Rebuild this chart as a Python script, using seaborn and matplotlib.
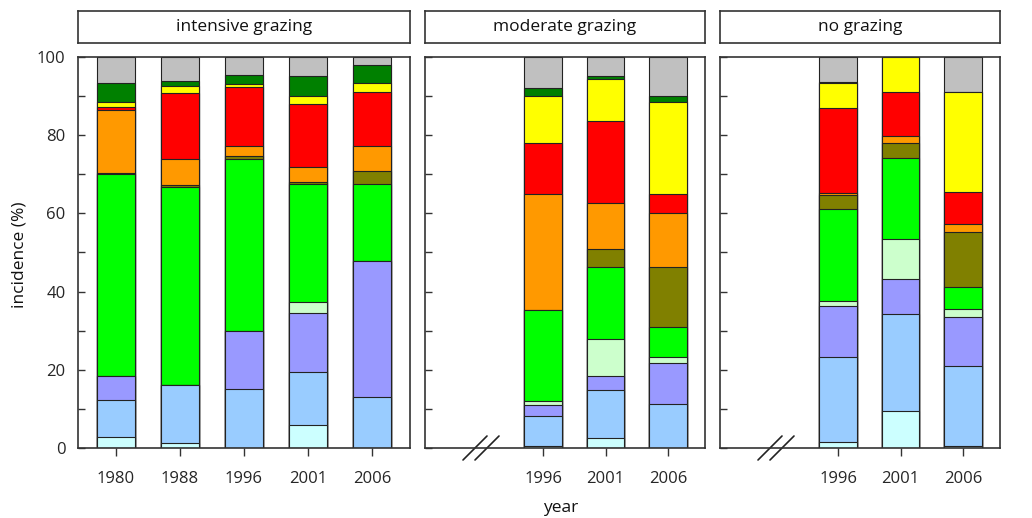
import numpy as np
import pandas as pd
import matplotlib
matplotlib.use("Agg")
import matplotlib.pyplot as plt
from matplotlib.lines import Line2D
import seaborn as sns

# ---- data -----------------------------------------------------------------
panels = ["intensive grazing", "moderate grazing", "no grazing"]
years_all = ["1980", "1988", "1996", "2001", "2006"]
panel_years = [
    ["1980", "1988", "1996", "2001", "2006"],
    ["1996", "2001", "2006"],
    ["1996", "2001", "2006"],
]

# incidence (%) of each class, bottom to top of the stack;
# columns: intensive 1980..2006, moderate 1996..2006, none 1996..2006
c01 = [2.9, 1.2, 0.0, 5.8, 0.0, 0.4, 2.6, 0.0, 1.5, 9.5, 0.5]
c02 = [9.3, 14.9, 15.2, 13.6, 13.1, 7.8, 12.2, 11.2, 21.9, 24.7, 20.5]
c03 = [6.2, 0.0, 14.6, 15.0, 34.8, 2.7, 3.6, 10.5, 12.8, 9.0, 12.5]
c04 = [0.0, 0.0, 0.0, 2.9, 0.0, 1.0, 9.4, 1.5, 1.4, 10.3, 2.0]
c05 = [51.6, 50.7, 44.0, 30.1, 19.5, 23.3, 18.6, 7.7, 23.5, 20.6, 5.8]
c06 = [0.3, 0.4, 0.9, 0.6, 3.4, 0.0, 4.4, 15.3, 3.7, 4.0, 14.0]
c07 = [16.2, 6.8, 2.5, 3.8, 6.5, 29.7, 11.9, 14.0, 0.5, 1.7, 2.0]
c08 = [0.6, 16.7, 15.1, 16.1, 13.7, 13.2, 20.9, 4.7, 21.6, 11.2, 8.1]
c09 = [1.3, 1.9, 0.9, 2.2, 2.4, 11.8, 10.7, 23.7, 6.4, 9.0, 25.6]
c10 = [4.9, 1.3, 2.2, 5.1, 4.6, 2.1, 0.8, 1.3, 0.2, 0.0, 0.1]
c11 = [6.7, 6.1, 4.6, 4.8, 2.0, 8.0, 4.9, 10.1, 6.5, 0.0, 8.9]

classes = ["c01", "c02", "c03", "c04", "c05", "c06", "c07", "c08", "c09", "c10", "c11"]
class_values = [c01, c02, c03, c04, c05, c06, c07, c08, c09, c10, c11]
class_colors = ["#CCFFFF", "#99CCFF", "#9999FF", "#CCFFCC", "#00FF00", "#808000",
                "#FF9900", "#FF0000", "#FFFF00", "#008000", "#C0C0C0"]

# ---- long table with cumulative stack tops ---------------------------------
bar_panel = [p for p, ys in zip(panels, panel_years) for _ in ys]
bar_year = [y for ys in panel_years for y in ys]
rows = []
for cls, vals in zip(classes, class_values):
    for p, y, v in zip(bar_panel, bar_year, vals):
        rows.append({"panel": p, "year": y, "pos": years_all.index(y), "cls": cls, "value": v})
df = pd.DataFrame(rows)
df["cls"] = pd.Categorical(df["cls"], categories=classes, ordered=True)
df = df.sort_values(["panel", "year", "cls"])
df["top"] = df.groupby(["panel", "year"])["value"].cumsum()

# ---- figure ----------------------------------------------------------------
sns.set_theme(style="white")
plt.rcParams["font.family"] = ["Open Sans", "DejaVu Sans"]
plt.rcParams["font.size"] = 12

W, H = 1032, 518
fig = plt.figure(figsize=(W / 100, H / 100), dpi=100)

frame_px = [(78, 410), (425, 705), (720, 1000)]
xlims = [(-0.59, 4.59), (0.11, 4.59), (0.11, 4.59)]
top_px, bot_px = 57, 448
strip_top, strip_bot = 11, 43
spine_col = "#333333"

for i, (name, (l, r), xl) in enumerate(zip(panels, frame_px, xlims)):
    ax = fig.add_axes([l / W, (H - bot_px) / H, (r - l) / W, (bot_px - top_px) / H])
    sub = df[df["panel"] == name]
    # stacked bars: draw the tallest cumulative layer first, lower layers on top
    for cls, col in zip(classes[::-1], class_colors[::-1]):
        layer = sub[sub["cls"] == cls]
        sns.barplot(data=layer, x="pos", y="top", native_scale=True, orient="x",
                    color=col, saturation=1, width=0.6, errorbar=None,
                    edgecolor="#222222", linewidth=0.8, ax=ax)
    ax.set_xlim(*xl)
    ax.set_ylim(0, 100)
    ax.set_xlabel("")
    ax.set_ylabel("")
    pos = [years_all.index(y) for y in panel_years[i]]
    ax.set_xticks(pos)
    ax.set_xticklabels(panel_years[i])
    ax.set_yticks(np.arange(0, 101, 10))
    if i == 0:
        ax.set_yticklabels([str(v) if v % 20 == 0 else "" for v in range(0, 101, 10)])
    else:
        ax.set_yticklabels([])
    ax.tick_params(axis="y", direction="in", length=5, width=1, color=spine_col,
                   pad=9, labelsize=12, left=True, right=False)
    ax.tick_params(axis="x", direction="out", length=5.5, width=1, color=spine_col,
                   pad=11, labelsize=12, bottom=True, top=False)
    for s in ax.spines.values():
        s.set_color(spine_col)
        s.set_linewidth(1.2)
    ax.grid(False)

    if i > 0:
        # axis break marks on the bottom axis
        w = r - l
        hgt = bot_px - top_px
        for dx in (38, 50):
            ax.add_line(Line2D([dx / w, (dx + 24) / w], [-12 / hgt, 12 / hgt],
                               transform=ax.transAxes, color="#222222", lw=1.2,
                               clip_on=False))

    # strip header
    sax = fig.add_axes([l / W, (H - strip_bot) / H, (r - l) / W, (strip_bot - strip_top) / H])
    sax.set_xticks([])
    sax.set_yticks([])
    sax.set_facecolor("white")
    for s in sax.spines.values():
        s.set_color(spine_col)
        s.set_linewidth(1.2)
    sax.text(0.5, 0.5, name, ha="center", va="center", fontsize=12.5,
             transform=sax.transAxes, color="#111111")

fig.text(20 / W, 1 - 255 / H, "incidence (%)", rotation=90, ha="center", va="center",
         fontsize=12.5, color="#111111")
fig.text(561 / W, 1 - 508 / H, "year", ha="center", va="center", fontsize=12.5,
         color="#111111")

fig.savefig("out.png", dpi=100, facecolor="white")
